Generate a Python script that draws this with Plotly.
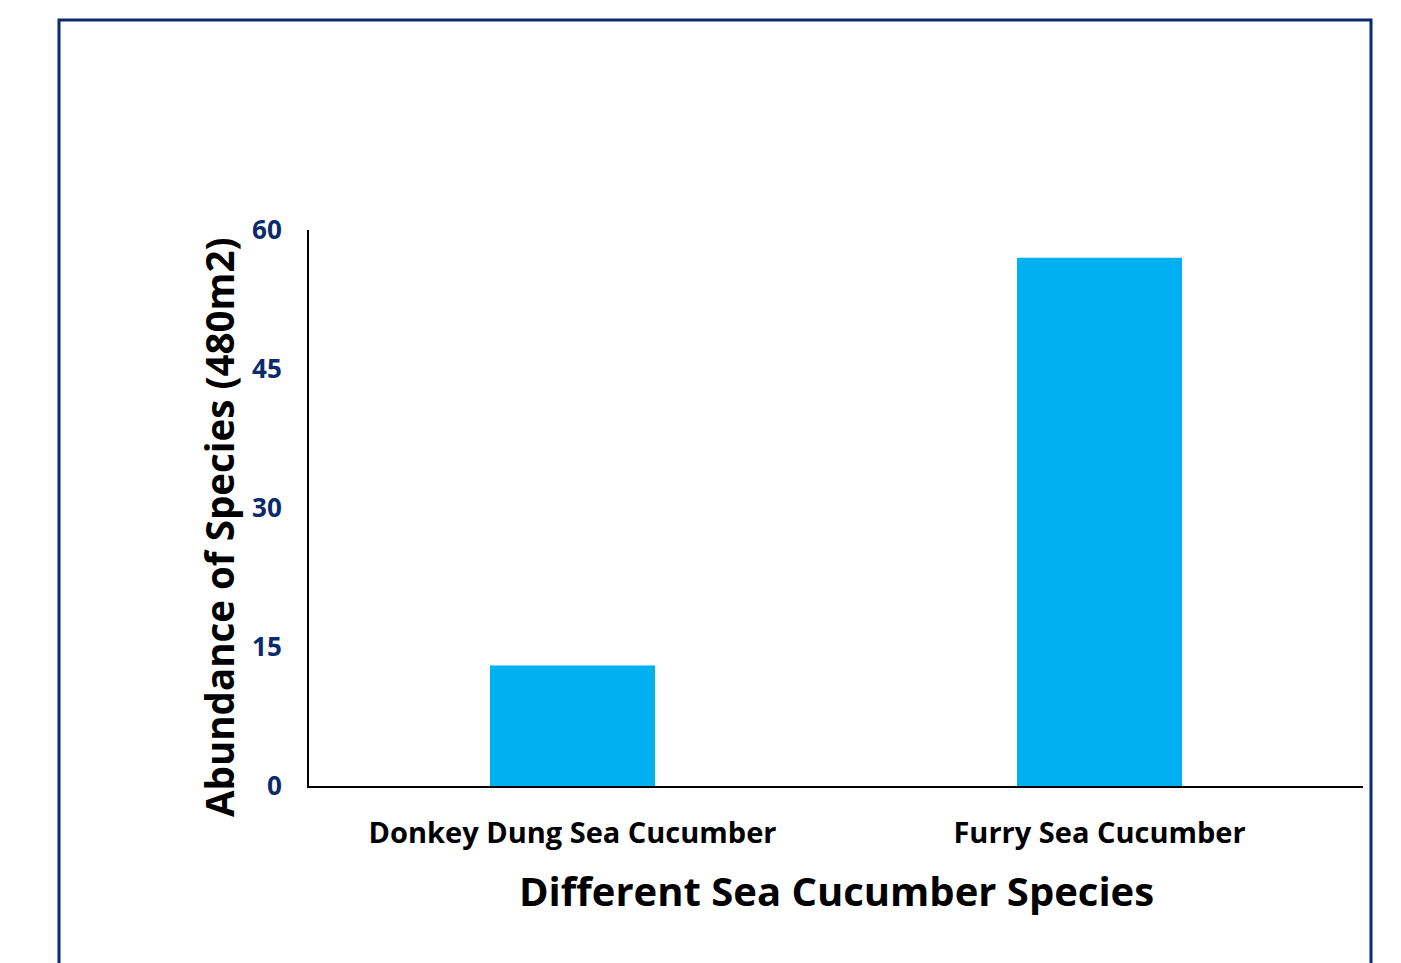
import plotly.graph_objects as go

species = ["Donkey Dung Sea Cucumber", "Furry Sea Cucumber"]
abundance = [13, 57]
y_ticks = [0, 15, 30, 45, 60]

NAVY = "#0B2A6B"
FONT = "Open Sans"

fig = go.Figure(
    go.Bar(
        x=species,
        y=abundance,
        marker=dict(color="#00B0F0", line=dict(width=0)),
        width=0.313,
        hoverinfo="skip",
    )
)

fig.update_layout(
    width=1401,
    height=963,
    margin=dict(l=309, r=38, t=230, b=177),
    paper_bgcolor="white",
    plot_bgcolor="white",
    showlegend=False,
    font=dict(family=FONT, color="black"),
    xaxis=dict(
        showline=True,
        linecolor="black",
        linewidth=2,
        showgrid=False,
        zeroline=False,
        ticks="",
        tickfont=dict(family=FONT, size=29, color="black", weight="bold"),
        ticklabelstandoff=20,
    ),
    yaxis=dict(
        range=[0, 60],
        tickvals=y_ticks,
        showline=True,
        linecolor="black",
        linewidth=2,
        showgrid=False,
        zeroline=False,
        ticks="",
        tickfont=dict(family=FONT, size=26, color=NAVY, weight="bold"),
        ticklabelstandoff=20,
    ),
    annotations=[
        dict(
            text="Different Sea Cucumber Species",
            xref="paper", yref="paper",
            x=0.5, y=(786 - 890) / 556,
            xanchor="center", yanchor="middle",
            showarrow=False,
            font=dict(family=FONT, size=40, color="black", weight="bold"),
        ),
        dict(
            text="Abundance of Species (480m2)",
            xref="paper", yref="paper",
            x=(219 - 309) / 1054, y=(786 - 528) / 556,
            xanchor="center", yanchor="middle",
            textangle=-90,
            showarrow=False,
            font=dict(family=FONT, size=38.5, color="black", weight="bold"),
        ),
    ],
    shapes=[
        dict(
            type="rect",
            xref="paper", yref="paper",
            x0=(59 - 309) / 1054, x1=(1371 - 309) / 1054,
            y0=-0.5, y1=(786 - 20) / 556,
            line=dict(color=NAVY, width=3),
            fillcolor="rgba(0,0,0,0)",
            layer="above",
        )
    ],
)

fig.write_html("out.html")
